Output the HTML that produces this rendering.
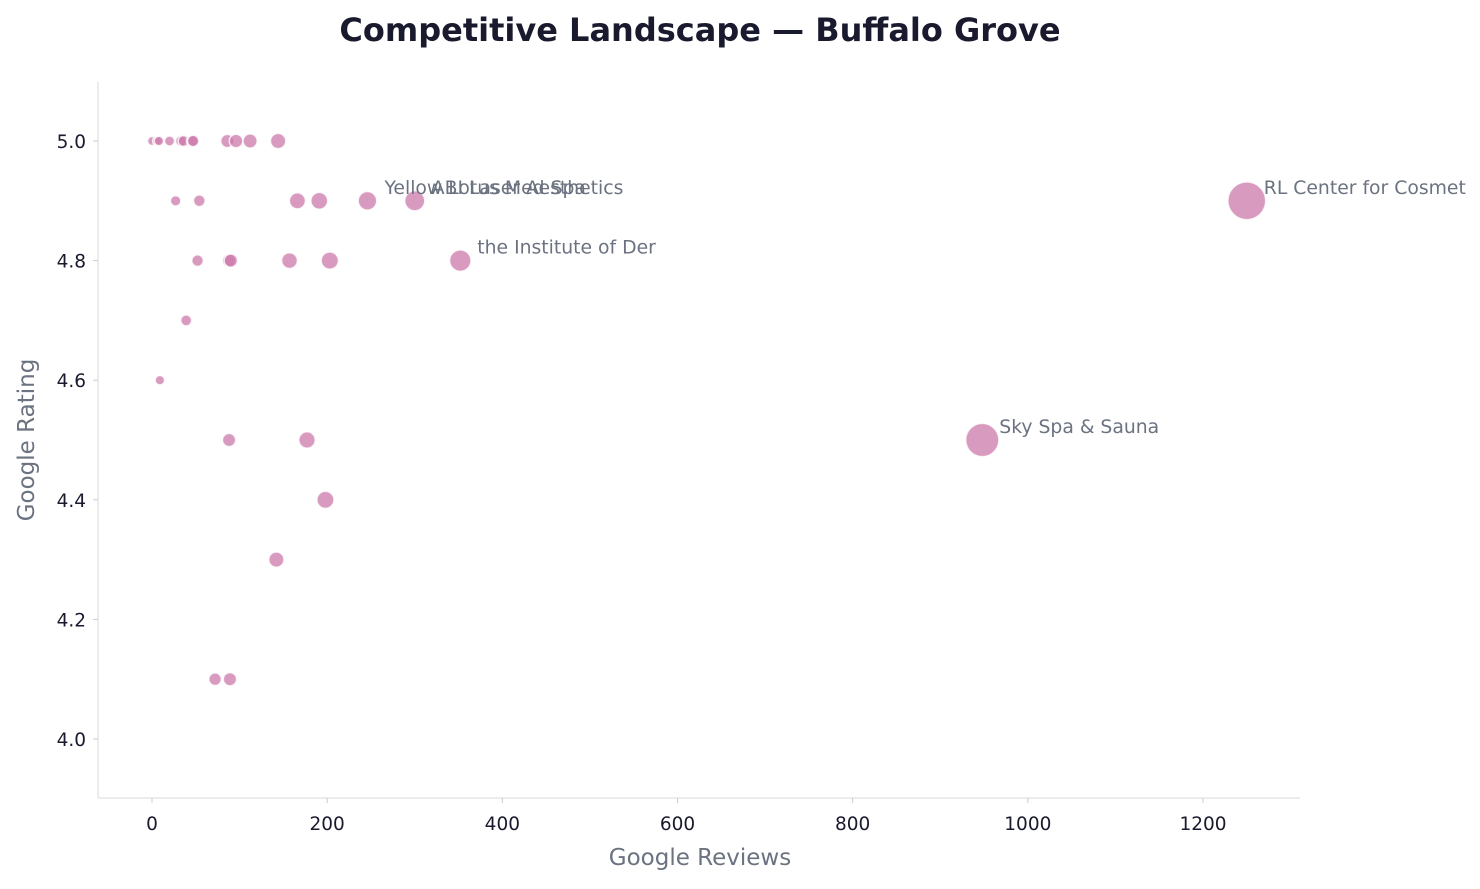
<!DOCTYPE html>
<html><head><meta charset="utf-8"><style>
body{margin:0;background:#fff;font-family:"Liberation Sans","DejaVu Sans",sans-serif}
svg text{font-family:"DejaVu Sans","Liberation Sans",sans-serif}
</style></head><body>
<svg id="chart" width="1480" height="884">
<text x="700" y="41" text-anchor="middle" font-size="32" font-weight="bold" fill="#1a1a2e">Competitive Landscape — Buffalo Grove</text>
<g id="axes"></g><g id="marks"></g><g id="labels"></g>
<text x="700" y="865" text-anchor="middle" font-size="23" fill="#6b7280">Google Reviews</text>
<text transform="translate(34,440) rotate(-90)" text-anchor="middle" font-size="23" fill="#6b7280">Google Rating</text>
</svg>
<script>
const reviews=[0,6,8,20,33,36,46,47,86,96,112,144,27,54,166,191,246,300,1250,52,88,90,157,203,352,39,9,88,177,948,198,142,72,89];
const ratings=[5,5,5,5,5,5,5,5,5,5,5,5,4.9,4.9,4.9,4.9,4.9,4.9,4.9,4.8,4.8,4.8,4.8,4.8,4.8,4.7,4.6,4.5,4.5,4.5,4.4,4.3,4.1,4.1];
const labelNames=["Yellow Lotus Med Spa","ABI Laser Aesthetics","RL Center for Cosmet","the Institute of Der","Sky Spa & Sauna"];
const labelIdx=[16,17,18,24,29];
const xTicks=[0,200,400,600,800,1000,1200];
const yTicks=[4.0,4.2,4.4,4.6,4.8,5.0];
const NS="http://www.w3.org/2000/svg";
const X=v=>152+v*(1203-152)/1200;
const Y=v=>739-(v-4)*598;
function mk(tag,attrs,parent,txt){const e=document.createElementNS(NS,tag);for(const k in attrs)e.setAttribute(k,attrs[k]);if(txt!==undefined)e.textContent=txt;parent.appendChild(e);return e;}
const ax=document.getElementById('axes');
let l=mk('line',{x1:98,y1:82,x2:98,y2:798,stroke:'#e0e0e0','stroke-width':1.2},ax);


l=mk('line',{x1:98,y1:798,x2:1300,y2:798,stroke:'#e0e0e0','stroke-width':1.2},ax);


xTicks.forEach(t=>{mk('line',{x1:X(t),x2:X(t),y1:798,y2:803,stroke:'#ccc'},ax);
const e=mk('text',{x:X(t),y:830,'text-anchor':'middle','font-size':18.5,fill:'#1a1a2e'},ax,String(t));

});
yTicks.forEach(t=>{mk('line',{x1:93,x2:98,y1:Y(t),y2:Y(t),stroke:'#ccc'},ax);
const e=mk('text',{x:86,y:Y(t)+7,'text-anchor':'end','font-size':18.5,fill:'#1a1a2e'},ax,t.toFixed(1));

});
const mg=document.getElementById('marks');
reviews.forEach((r,i)=>{const c=mk('circle',{cx:X(r),cy:Y(ratings[i]),r:Math.sqrt(20+0.27*r),fill:'rgba(204,120,170,0.75)',stroke:'rgba(255,255,255,0.8)','stroke-width':1.5},mg);

});
const lg=document.getElementById('labels');
labelIdx.forEach((i,k)=>{const e=mk('text',{x:X(reviews[i])+17,y:Y(ratings[i])-7,'font-size':18.8,fill:'#6b7280'},lg,labelNames[k]);

});
</script>
</body></html>
